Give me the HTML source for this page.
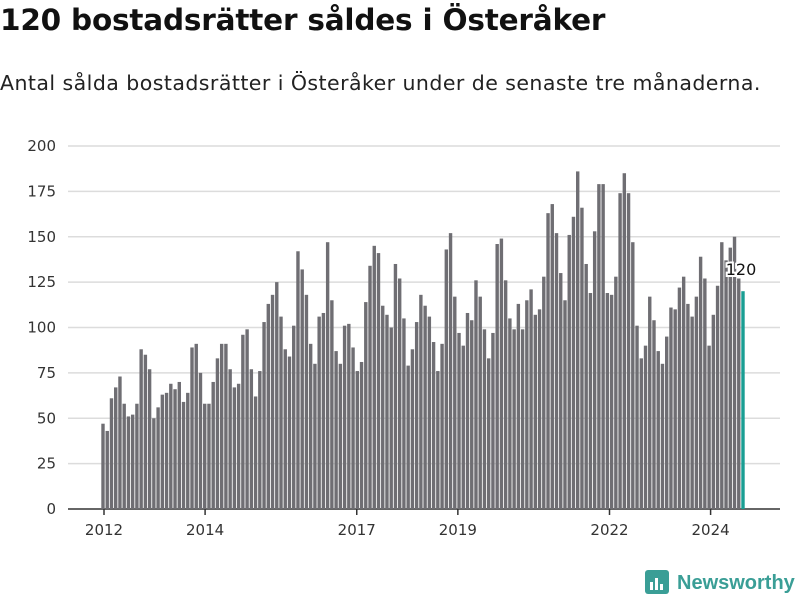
<!DOCTYPE html>
<html><head><meta charset="utf-8"><style>
body{margin:0;background:#fff;font-family:"DejaVu Sans",sans-serif;}
#wrap{position:relative;width:800px;height:600px;overflow:hidden;}
h1{position:absolute;left:0;top:3px;margin:0;font-size:29.5px;font-weight:bold;color:#111;letter-spacing:-0.2px;white-space:nowrap;}
p.sub{position:absolute;left:0;top:71px;margin:0;font-size:20.5px;color:#222;letter-spacing:0.45px;white-space:nowrap;}
</style></head><body>
<div id="wrap">
<h1>120 bostadsrätter såldes i Österåker</h1>
<p class="sub">Antal sålda bostadsrätter i Österåker under de senaste tre månaderna.</p>
<svg id="chart" width="800" height="600" style="position:absolute;left:0;top:0">
<g id="logo">
<rect x="645" y="570" width="24" height="24" rx="3" fill="#3a9e96"/>
<rect x="650" y="582" width="3" height="8" fill="#fff"/><rect x="655" y="578" width="3" height="12" fill="#fff"/><rect x="660" y="584" width="3" height="6" fill="#fff"/>
<text x="677" y="589" font-size="20" font-weight="bold" fill="#3a9e96" font-family="Liberation Sans, sans-serif">Newsworthy</text>
</g>
</svg>
</div>
<script>
const yTicks=[0,25,50,75,100,125,150,175,200];
const xTickYears=[2012,2014,2017,2019,2022,2024];
const values=[47,43,61,67,73,58,51,52,58,88,85,77,50,56,63,64,69,66,70,59,64,89,91,75,58,
58,70,83,91,91,77,67,69,96,99,77,62,76,103,113,118,125,106,88,84,101,142,132,118,91,80,
106,108,147,115,87,80,101,102,89,76,81,114,134,145,141,112,107,100,135,127,105,79,88,103,118,
112,106,92,76,91,143,152,117,97,90,108,104,126,117,99,83,97,146,149,126,105,99,113,99,115,
121,107,110,128,163,168,152,130,115,151,161,186,166,135,119,153,179,179,119,118,128,174,185,174,147,
101,83,90,117,104,87,80,95,111,110,122,128,113,106,117,139,127,90,107,123,147,137,144,150,127,120];
const svg=document.getElementById('chart');
const NS='http://www.w3.org/2000/svg';
const y0=509,pxPerUnit=363/200;
function yS(v){return y0-v*pxPerUnit;}
function xBar(i){return 103+i*(640/(values.length-1));}
function xYear(yr){return 104+(yr-2012)*50.55;}
function mk(t,a){const e=document.createElementNS(NS,t);for(const k in a)e.setAttribute(k,a[k]);svg.appendChild(e);return e;}
yTicks.forEach(v=>{
 const l=mk('line',{x1:68,x2:780,y1:yS(v),y2:yS(v),stroke:v===0?'#333':'#dcdcdc','stroke-width':1.5});
 
 
 const t=mk('text',{x:56,y:yS(v)+5,'text-anchor':'end','font-size':15,fill:'#333','font-family':'DejaVu Sans, sans-serif'});
 t.textContent=v;
 
 
});
values.forEach((v,i)=>{
 const last=i===values.length-1;
 const r=mk('rect',{x:xBar(i)-1.7,y:yS(v),width:3.4,height:v*pxPerUnit,fill:last?'#1a9e93':'#6f6e73'});
 
 
});
xTickYears.forEach(yr=>{
 const x=xYear(yr);
 const tk=mk('line',{x1:x,x2:x,y1:509,y2:515,stroke:'#333','stroke-width':1.5});
 
 
 const t=mk('text',{x:x,y:535,'text-anchor':'middle','font-size':15,fill:'#333','font-family':'DejaVu Sans, sans-serif'});
 t.textContent=yr;
 
 
});
const li=values.length-1;
const lab=mk('text',{x:xBar(li)-2,y:yS(values[li])-16,'text-anchor':'middle','font-size':16,fill:'#111',stroke:'#fff','stroke-width':4,'paint-order':'stroke','font-family':'DejaVu Sans, sans-serif'});
lab.textContent=values[li];


svg.appendChild(document.getElementById('logo'));
</script>
</body></html>
